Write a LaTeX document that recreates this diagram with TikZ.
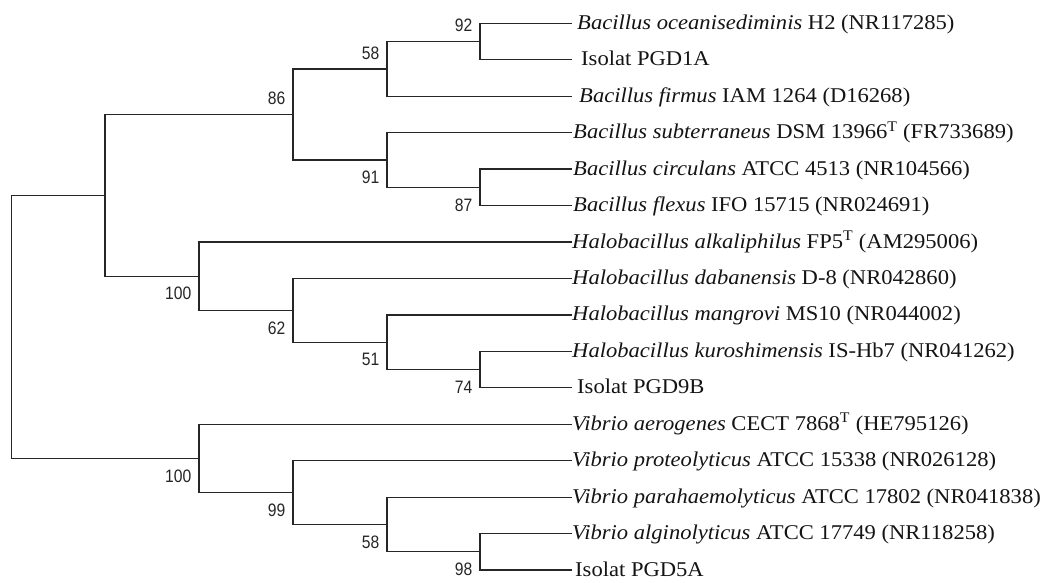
\documentclass[tikz,border=0pt]{standalone}
\usepackage{fontspec}
\setmainfont{Liberation Serif}
\newfontfamily\labfont{Liberation Sans}
\tikzset{
  br/.style={line width=1.3pt, draw=black!85},
  leaf/.style={anchor=base west, inner sep=0pt, font=\fontsize{21}{21}\selectfont, xscale=1.075, text=black!92},
  boot/.style={anchor=east, inner sep=0pt, font=\labfont\fontsize{18}{18}\selectfont, xscale=0.87, text=black!85},
}
\begin{document}
\begin{tikzpicture}[x=1pt,y=-1pt]
\fill[white] (0,0) rectangle (1044,582);
\useasboundingbox (0,0) rectangle (1044,582);
% internal nodes
\coordinate (root) at (11.5,326.85);
\coordinate (nA) at (105,195.3);
\coordinate (n86) at (293,114.4);
\coordinate (n58) at (387,68.9);
\coordinate (n92) at (480,41.5);
\coordinate (n91) at (387,160);
\coordinate (n87) at (480,187.3);
\coordinate (nH) at (199,276.2);
\coordinate (n62) at (293,310.3);
\coordinate (n51) at (387,342.2);
\coordinate (n74) at (480,369.6);
\coordinate (nV) at (199,458.4);
\coordinate (n99) at (293,492.6);
\coordinate (n58b) at (387,524.5);
\coordinate (n98) at (480,551.8);
% leaves
\foreach \i in {0,...,15} {\coordinate (l\i) at (572,{23.3+36.45*\i});}
% branches
\draw[br] (root) |- (nA);
\draw[br] (root) |- (nV);
\draw[br] (nA) |- (n86);
\draw[br] (nA) |- (nH);
\draw[br] (n86) |- (n58);
\draw[br] (n86) |- (n91);
\draw[br] (n58) |- (n92);
\draw[br] (n58) |- (l2);
\draw[br] (n92) |- (l0);
\draw[br] (n92) |- (l1);
\draw[br] (n91) |- (l3);
\draw[br] (n91) |- (n87);
\draw[br] (n87) |- (l4);
\draw[br] (n87) |- (l5);
\draw[br] (nH) |- (l6);
\draw[br] (nH) |- (n62);
\draw[br] (n62) |- (l7);
\draw[br] (n62) |- (n51);
\draw[br] (n51) |- (l8);
\draw[br] (n51) |- (n74);
\draw[br] (n74) |- (l9);
\draw[br] (n74) |- (l10);
\draw[br] (nV) |- (l11);
\draw[br] (nV) |- (n99);
\draw[br] (n99) |- (l12);
\draw[br] (n99) |- (n58b);
\draw[br] (n58b) |- (l13);
\draw[br] (n58b) |- (n98);
\draw[br] (n98) |- (l14);
\draw[br] (n98) |- (l15);
% leaf labels
\node[leaf] (t0) at ([xshift=5pt,yshift=-6pt]l0) {\textit{Bacillus oceanisediminis} H2 (NR117285)};
\node[leaf] (t1) at ([xshift=9pt,yshift=-6pt]l1) {Isolat PGD1A};
\node[leaf] (t2) at ([xshift=7pt,yshift=-6pt]l2) {\textit{Bacillus firmus} IAM 1264 (D16268)};
\node[leaf] (t3) at ([xshift=1pt,yshift=-6pt]l3) {\textit{Bacillus subterraneus} DSM 13966\textsuperscript{T} (FR733689)};
\node[leaf] (t4) at ([xshift=1pt,yshift=-6pt]l4) {\textit{Bacillus circulans} ATCC 4513 (NR104566)};
\node[leaf] (t5) at ([xshift=1pt,yshift=-6pt]l5) {\textit{Bacillus flexus} IFO 15715 (NR024691)};
\node[leaf] (t6) at ([xshift=0pt,yshift=-6pt]l6) {\textit{Halobacillus alkaliphilus} FP5\textsuperscript{T} (AM295006)};
\node[leaf] (t7) at ([xshift=0pt,yshift=-6pt]l7) {\textit{Halobacillus dabanensis} D-8 (NR042860)};
\node[leaf] (t8) at ([xshift=0pt,yshift=-6pt]l8) {\textit{Halobacillus mangrovi} MS10 (NR044002)};
\node[leaf] (t9) at ([xshift=0pt,yshift=-6pt]l9) {\textit{Halobacillus kuroshimensis} IS-Hb7 (NR041262)};
\node[leaf] (t10) at ([xshift=5pt,yshift=-6pt]l10) {Isolat PGD9B};
\node[leaf] (t11) at ([xshift=0pt,yshift=-6pt]l11) {\textit{Vibrio aerogenes} CECT 7868\textsuperscript{T} (HE795126)};
\node[leaf] (t12) at ([xshift=0pt,yshift=-6pt]l12) {\textit{Vibrio proteolyticus} ATCC 15338 (NR026128)};
\node[leaf] (t13) at ([xshift=0pt,yshift=-6pt]l13) {\textit{Vibrio parahaemolyticus} ATCC 17802 (NR041838)};
\node[leaf] (t14) at ([xshift=0pt,yshift=-6pt]l14) {\textit{Vibrio alginolyticus} ATCC 17749 (NR118258)};
\node[leaf] (t15) at ([xshift=3pt,yshift=-6pt]l15) {Isolat PGD5A};
% bootstrap values
\node[boot] (b92) at ([xshift=-7.5pt,yshift=16pt]n92) {92};
\node[boot] (b58) at ([xshift=-7.5pt,yshift=16pt]n58) {58};
\node[boot] (b86) at ([xshift=-7.5pt,yshift=16pt]n86) {86};
\node[boot] (b91) at ([xshift=-7.5pt,yshift=-17.5pt]n91) {91};
\node[boot] (b87) at ([xshift=-7.5pt,yshift=-17.5pt]n87) {87};
\node[boot] (bH) at ([xshift=-7.5pt,yshift=-17.5pt]nH) {100};
\node[boot] (b62) at ([xshift=-7.5pt,yshift=-17.5pt]n62) {62};
\node[boot] (b51) at ([xshift=-7.5pt,yshift=-17.5pt]n51) {51};
\node[boot] (b74) at ([xshift=-7.5pt,yshift=-17.5pt]n74) {74};
\node[boot] (bV) at ([xshift=-7.5pt,yshift=-17.5pt]nV) {100};
\node[boot] (b99) at ([xshift=-7.5pt,yshift=-17.5pt]n99) {99};
\node[boot] (b58b) at ([xshift=-7.5pt,yshift=-17.5pt]n58b) {58};
\node[boot] (b98) at ([xshift=-7.5pt,yshift=-17.5pt]n98) {98};
\end{tikzpicture}
\end{document}
